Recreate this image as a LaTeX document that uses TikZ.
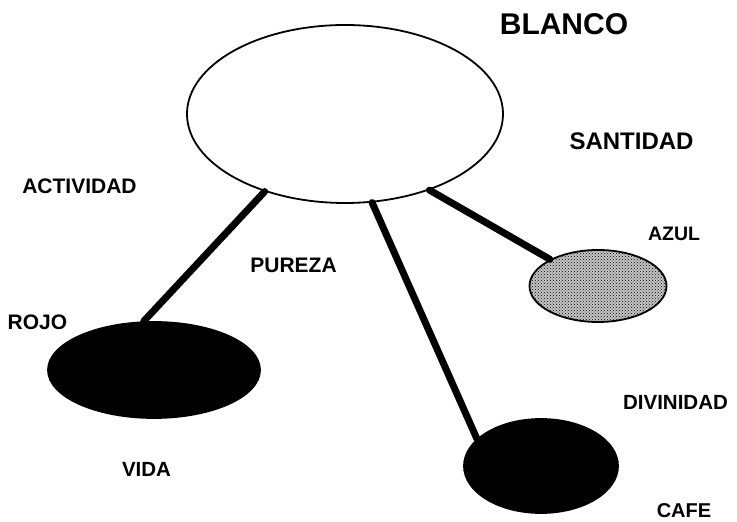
\documentclass[tikz,border=0pt]{standalone}
\usepackage{fontspec}
\setmainfont{Liberation Sans}
\usetikzlibrary{shapes.geometric,patterns}
\begin{document}
\begin{tikzpicture}[x=1pt,y=1pt,
  oval/.style={ellipse,draw=black,line width=1.8pt,inner sep=0pt},
  link/.style={line width=7pt,line cap=round},
  lbl/.style={font=\fontsize{#1}{#1}\selectfont\bfseries,inner sep=0pt},
  lbl/.default=21]
\useasboundingbox (0,0) rectangle (737,522);
\node[oval,fill=white,minimum width=316pt,minimum height=178pt] (blanco) at (345,408) {};
\node[oval,preaction={fill=gray!45},pattern=crosshatch dots,minimum width=137pt,minimum height=72pt] (azul) at (598,236) {};
\node[oval,fill=black,minimum width=212pt,minimum height=96pt] (rojo) at (154,152) {};
\node[oval,fill=black,minimum width=154pt,minimum height=94pt] (cafe) at (541,56) {};
\draw[link] (blanco.-136.7) -- (rojo.102.5);
\draw[link] (blanco.-73.5) -- (cafe.157.9);
\draw[link] (blanco.-42.2) -- (azul.151.6);
\node[lbl=30,anchor=base] (tblanco) at (564,487) {BLANCO};
\node[lbl=24,anchor=base] (tsantidad) at (631.5,372) {SANTIDAD};
\node[lbl=21,anchor=base] (tactividad) at (79.5,328) {ACTIVIDAD};
\node[lbl=21,anchor=base] (tpureza) at (293.5,249) {PUREZA};
\node[lbl=19.5,anchor=base] (tazul) at (674,281) {AZUL};
\node[lbl=21,anchor=base] (trojo) at (37.5,192) {ROJO};
\node[lbl=20.5,anchor=base] (tdivinidad) at (675.5,112) {DIVINIDAD};
\node[lbl=20.5,anchor=base] (tvida) at (146.5,45) {VIDA};
\node[lbl=20,anchor=base] (tcafe) at (684,4) {CAFE};
\end{tikzpicture}
\end{document}
